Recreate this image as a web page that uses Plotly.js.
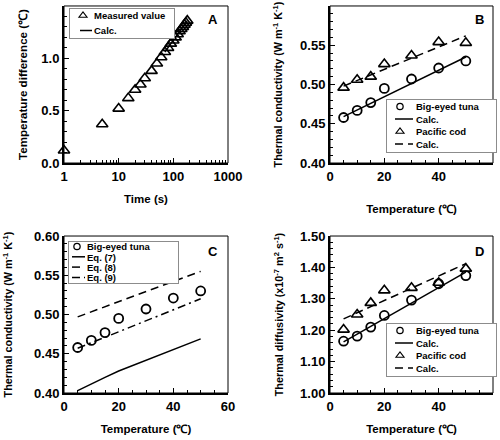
<!DOCTYPE html>
<html>
<head>
<meta charset="utf-8">
<script src="https://cdn.plot.ly/plotly-3.0.1.min.js"></script>
<style>html,body{margin:0;padding:0;background:#fff;}#chart{width:500px;height:440px;}</style>
</head>
<body>
<div id="chart"></div>
<script>
// ---- Panel A data ----
var timeA = [1,5,10,15,20,25,30,40,50,60,70,80,90,100,110,120,130,140,150,160,170,180];
var diffA = [0.12,0.37,0.52,0.62,0.70,0.75,0.81,0.88,0.95,1.01,1.06,1.10,1.14,1.17,1.20,1.23,1.26,1.28,1.30,1.32,1.34,1.36];
var calcTimeA = [70,100,140,180];
var calcDiffA = [1.06,1.17,1.28,1.36];
var tickTimeA = ['1','10','100','1000'];

// ---- Panels B, C, D data ----
var tempPts = [5,10,15,20,30,40,50];
var tempCalc = [5,50];
var tunaK = [0.458,0.467,0.477,0.495,0.507,0.521,0.530];
var codK = [0.496,0.506,0.510,0.526,0.537,0.554,0.553];
var tunaKCalc = [0.459,0.535];
var codKCalc = [0.498,0.562];
var eq7K = [0.403,0.412,0.420,0.428,0.442,0.456,0.469];
var eq8K = [0.497,0.555];
var eq9K = [0.457,0.520];
var tunaAlpha = [1.165,1.181,1.210,1.247,1.296,1.348,1.374];
var codAlpha = [1.202,1.250,1.287,1.327,1.335,1.351,1.396];
var tunaAlphaCalc = [1.163,1.385];
var codAlphaCalc = [1.236,1.412];

var FONT = 'Liberation Sans, Arial, sans-serif';
var LEGEND_FS = 9.5;
var circ = {symbol:'circle-open', size:9, color:'black', line:{width:1.8, color:'black'}};
var tri = {symbol:'triangle-up-open', size:10, color:'black', line:{width:1.6, color:'black'}};
var solid = {color:'black', width:1.5};
var dashed = {color:'black', width:1.5, dash:'8px,5px'};
var dashdot = {color:'black', width:1.5, dash:'8px,4px,2px,4px'};

var data = [
  {x:timeA, y:diffA, xaxis:'x', yaxis:'y', mode:'markers', marker:tri, name:'Measured value', legend:'legend', cliponaxis:false},
  {x:calcTimeA, y:calcDiffA, xaxis:'x', yaxis:'y', mode:'lines', line:solid, name:'Calc.', legend:'legend'},

  {x:tempPts, y:tunaK, xaxis:'x2', yaxis:'y2', mode:'markers', marker:circ, name:'Big-eyed tuna', legend:'legend2'},
  {x:tempCalc, y:tunaKCalc, xaxis:'x2', yaxis:'y2', mode:'lines', line:solid, name:'Calc.', legend:'legend2'},
  {x:tempPts, y:codK, xaxis:'x2', yaxis:'y2', mode:'markers', marker:tri, name:'Pacific cod', legend:'legend2'},
  {x:tempCalc, y:codKCalc, xaxis:'x2', yaxis:'y2', mode:'lines', line:dashed, name:'Calc.', legend:'legend2'},

  {x:tempPts, y:tunaK, xaxis:'x3', yaxis:'y3', mode:'markers', marker:circ, name:'Big-eyed tuna', legend:'legend3'},
  {x:tempPts, y:eq7K, xaxis:'x3', yaxis:'y3', mode:'lines', line:solid, name:'Eq. (7)', legend:'legend3'},
  {x:tempCalc, y:eq8K, xaxis:'x3', yaxis:'y3', mode:'lines', line:dashed, name:'Eq. (8)', legend:'legend3'},
  {x:tempCalc, y:eq9K, xaxis:'x3', yaxis:'y3', mode:'lines', line:dashdot, name:'Eq. (9)', legend:'legend3'},

  {x:tempPts, y:tunaAlpha, xaxis:'x4', yaxis:'y4', mode:'markers', marker:circ, name:'Big-eyed tuna', legend:'legend4'},
  {x:tempCalc, y:tunaAlphaCalc, xaxis:'x4', yaxis:'y4', mode:'lines', line:solid, name:'Calc.', legend:'legend4'},
  {x:tempPts, y:codAlpha, xaxis:'x4', yaxis:'y4', mode:'markers', marker:tri, name:'Pacific cod', legend:'legend4'},
  {x:tempCalc, y:codAlphaCalc, xaxis:'x4', yaxis:'y4', mode:'lines', line:dashed, name:'Calc.', legend:'legend4'}
];

function axis(o, titleText, standoff, titleSize){
  var base = {
    showline:true, linecolor:'black', linewidth:2, mirror:false,
    ticks:'inside', ticklen:5, tickwidth:1, tickcolor:'black',
    showgrid:false, zeroline:false, fixedrange:true,
    tickfont:{family:FONT, size:13, color:'black', weight:'bold'},
    title:{text:titleText, standoff:standoff, font:{family:FONT, size:titleSize || 10.8, color:'black', weight:'bold'}}
  };
  for (var k in o) base[k] = o[k];
  return base;
}
var minorX = {ticks:'inside', ticklen:3, tickwidth:1, tickcolor:'black', dtick:5, showgrid:false};
var logMinor = [];
[1,10,100].forEach(function(d){ for (var m=2;m<=9;m++) logMinor.push(m*d); });

var TOP = [0.6295, 0.9864], BOT = [0.1068, 0.4636];
var XL = [0.128, 0.456], XR = [0.66, 0.986];
var tempTitle = 'Temperature (℃)';
var kTitle = 'Thermal conductivity (W m<sup>-1</sup> K<sup>-1</sup>)';

var legendBase = function(x, y){
  return {x:x, y:y, xanchor:'left', yanchor:'top', xref:'paper', yref:'paper',
    bgcolor:'white', bordercolor:'#8c8c8c', borderwidth:1,
    font:{family:FONT, size:LEGEND_FS, color:'black', weight:'bold'}, itemwidth:30, tracegroupgap:0};
};

var layout = {
  width:500, height:440, margin:{l:0, r:0, t:0, b:0},
  paper_bgcolor:'white', plot_bgcolor:'white', hovermode:false, showlegend:true,
  xaxis: axis({domain:XL, anchor:'y', type:'log', range:[0,3], tickvals:[1,10,100,1000], ticktext:tickTimeA,
    minor:{ticks:'inside', ticklen:3, tickwidth:1, tickcolor:'black', tickvals:logMinor, showgrid:false}}, 'Time (s)', 12, 11.5),
  yaxis: axis({domain:TOP, anchor:'x', range:[0,1.5], dtick:0.5, tickformat:'.1f',
    minor:{ticks:'inside', ticklen:3, tickwidth:1, tickcolor:'black', dtick:0.1, showgrid:false}}, 'Temperature difference (℃)', 11, 11.6),
  xaxis2: axis({domain:XR, anchor:'y2', range:[0,60], dtick:20, minor:minorX}, tempTitle, 22, 11.5),
  yaxis2: axis({domain:TOP, anchor:'x2', range:[0.40,0.60], dtick:0.05, tickformat:'.2f',
    minor:{ticks:'inside', ticklen:3, tickwidth:1, tickcolor:'black', dtick:0.01, showgrid:false}}, kTitle, 15),
  xaxis3: axis({domain:XL, anchor:'y3', range:[0,60], dtick:20, minor:minorX}, tempTitle, 12, 11.5),
  yaxis3: axis({domain:BOT, anchor:'x3', range:[0.40,0.60], dtick:0.05, tickformat:'.2f',
    minor:{ticks:'inside', ticklen:3, tickwidth:1, tickcolor:'black', dtick:0.01, showgrid:false}}, kTitle, 19),
  xaxis4: axis({domain:XR, anchor:'y4', range:[0,60], dtick:20, minor:minorX}, tempTitle, 12, 11.5),
  yaxis4: axis({domain:BOT, anchor:'x4', range:[1.00,1.50], dtick:0.1, tickformat:'.2f',
    minor:{ticks:'inside', ticklen:3, tickwidth:1, tickcolor:'black', dtick:0.02, showgrid:false}}, 'Thermal diffusivity (x10<sup>-7</sup> m<sup>2</sup> s<sup>-1</sup>)', 14),
  legend: legendBase(69/500, 1 - 8/440),
  legend2: legendBase(386/500, 1 - 99/440),
  legend3: legendBase(68/500, 1 - 241/440),
  legend4: legendBase(386/500, 1 - 323/440),
  shapes: ['', '2', '3', '4'].map(function(s){
    return {type:'rect', xref:'x'+s+' domain', yref:'y'+s+' domain', x0:0, x1:1, y0:0, y1:1,
      line:{color:'black', width:1}, layer:'above'};
  }),
  annotations: [['', 'A', 0.908, 0.911], ['2', 'B', 0.92, 0.917], ['3', 'C', 0.908, 0.899], ['4', 'D', 0.92, 0.899]].map(function(a){
    return {xref:'x'+a[0]+' domain', yref:'y'+a[0]+' domain', x:a[2], y:a[3], text:a[1], showarrow:false,
      xanchor:'center', yanchor:'middle',
      font:{family:FONT, size:13, color:'black', weight:'bold'}};
  })
};

// tighten legend spacing / symbol width to match the compact reference legends
// [row spacing, first-row offset, text x, marker x, line start, line length, right pad]
function tighten(){
  var cfg = {
    legend:  [15,   7.5, 24, 13, 10, 12, 9],
    legend2: [12.5, 7.5, 29, 13, 8,  18, 10],
    legend3: [10.3, 5.5, 18, 8,  3,  13, 4],
    legend4: [12.5, 7.5, 29, 13, 8,  18, 10]
  };
  Object.keys(cfg).forEach(function(id){
    var g = document.querySelector('#chart g.' + id);
    if (!g) return;
    var c = cfg[id];
    var sp = c[0], off = c[1], textX = c[2], markX = c[3], lx = c[4], ll = c[5], pad = c[6];
    var shift = 40 - textX;
    var items = g.querySelectorAll('g.traces');
    var maxR = 0;
    items.forEach(function(it, i){
      var tr = it.getAttribute('transform') || '';
      var m = /translate\(([-\d.]+)/.exec(tr);
      var tx = m ? parseFloat(m[1]) : 0;
      var ntx = tx - shift;
      it.setAttribute('transform', 'translate(' + ntx + ',' + (off + i*sp) + ')');
      it.querySelectorAll('g.legendlines path').forEach(function(p){ p.setAttribute('d', 'M' + (lx + shift) + ',0h' + ll); });
      it.querySelectorAll('g.legendpoints path.scatterpts').forEach(function(p){
        p.setAttribute('transform', 'translate(' + (markX + shift) + ',0) scale(0.7)');
      });
      var t = it.querySelector('text.legendtext');
      if (t) {
        try { var bb = t.getBBox(); maxR = Math.max(maxR, ntx + bb.x + bb.width); } catch(e) {}
      }
    });
    var bg = g.querySelector('rect.bg');
    var H = 2*off + (items.length - 1)*sp;
    if (bg) { bg.setAttribute('height', H); if (maxR > 0) bg.setAttribute('width', maxR + pad); }
  });
}

Plotly.newPlot('chart', data, layout, {displayModeBar:false, staticPlot:true}).then(tighten);
</script>
</body>
</html>
